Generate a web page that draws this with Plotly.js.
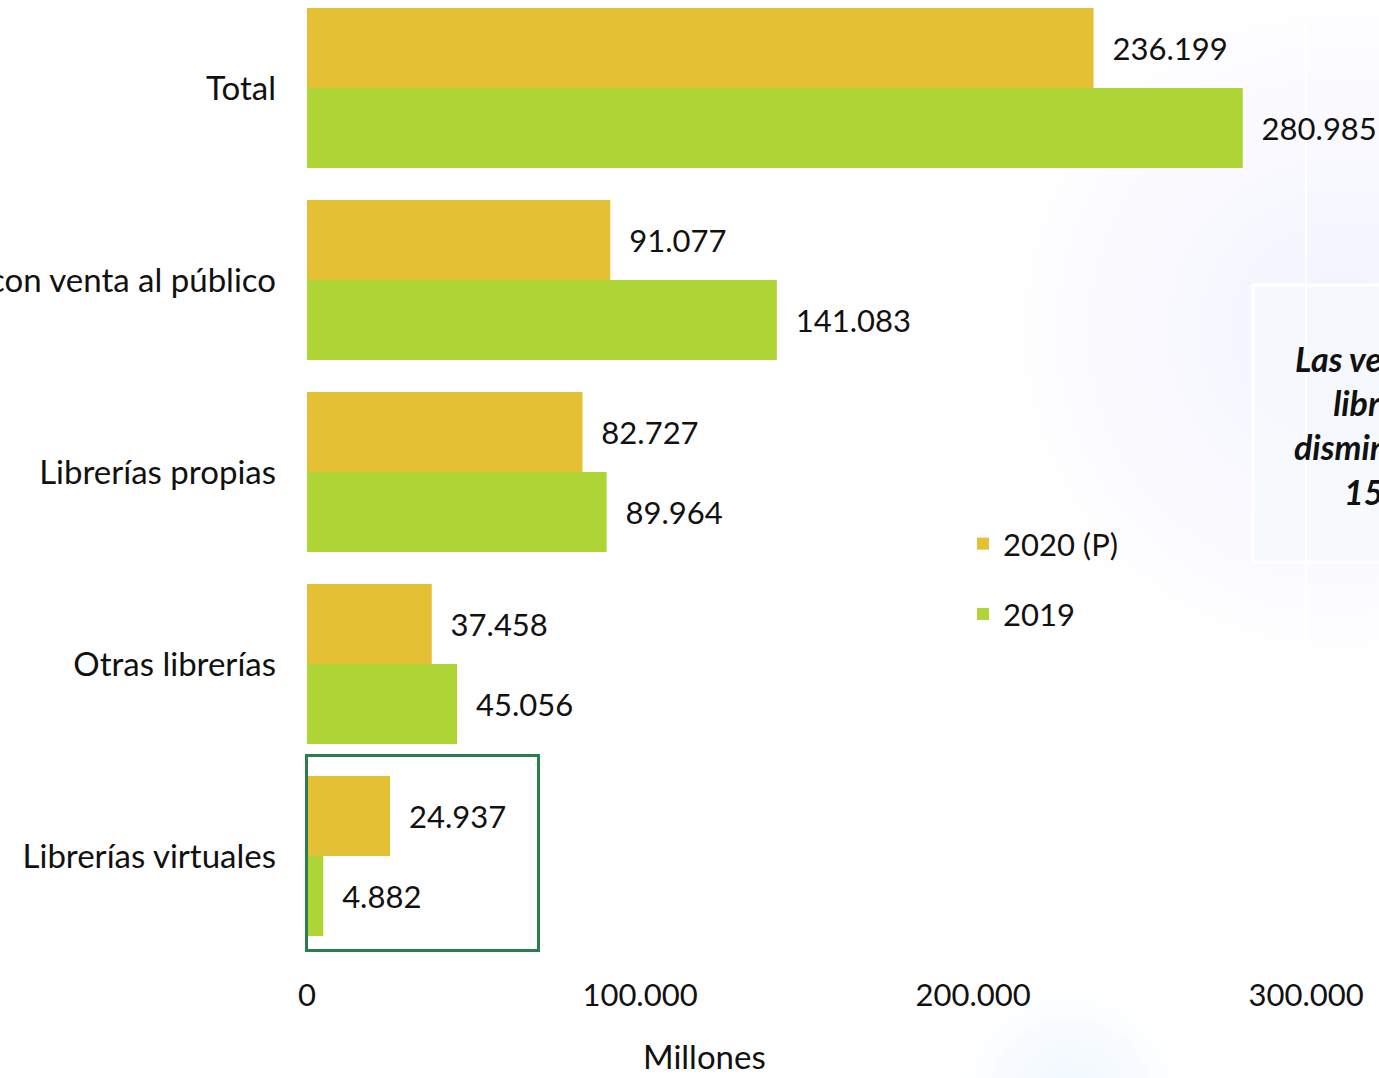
<!DOCTYPE html>
<html>
<head>
<meta charset="utf-8">
<script src="https://cdn.plot.ly/plotly-3.0.1.min.js"></script>
<style>
  html, body { margin: 0; padding: 0; background: #ffffff; }
  #chart { width: 1379px; height: 1078px; }
</style>
</head>
<body>
<div id="chart"></div>
<script>
// ---- data ----
const categories = [
  "Total",
  "Editoriales con venta al público",
  "Librerías propias",
  "Otras librerías",
  "Librerías virtuales"
];
const ventas2020 = [236199, 91077, 82727, 37458, 24937];
const ventas2019 = [280985, 141083, 89964, 45056, 4882];
const seriesNames = ["2020 (P)", "2019"];
const xTickValues = [0, 100000, 200000, 300000];
const axisTitle = "Millones";
const boxText = "Las ventas en<br>librerías<br>disminuyeron<br>15,9%";

// ---- geometry helpers (pixel -> paper) ----
const W = 1379, H = 1078;
const L = 307, R = 0, T = 0, B = 126;
const PW = W - L - R, PH = H - T - B;
const px = v => (v - L) / PW;
const py = v => 1 - (v - T) / PH;

const FONT = "Lato, 'Open Sans', sans-serif";

function glow(cx, cy, r, n, color) {
  const out = [];
  for (let i = 0; i < n; i++) {
    const rr = r * (1 - i / n);
    out.push({
      type: "circle", xref: "paper", yref: "paper", layer: "below",
      x0: px(cx - rr), x1: px(cx + rr), y0: py(cy + rr), y1: py(cy - rr),
      fillcolor: color, line: { width: 0 }
    });
  }
  return out;
}

const shapes = [].concat(
  glow(1340, 330, 340, 12, "rgba(208,228,246,0.028)"),
  glow(1070, 1100, 110, 8, "rgba(208,228,246,0.05)"),
  [{
    type: "rect", xref: "paper", yref: "paper", layer: "below",
    x0: px(1253), x1: px(1700), y0: py(562), y1: py(285),
    fillcolor: "rgba(245,249,253,0.9)", line: { color: "#ffffff", width: 3 }
  },
  {
    type: "rect", xref: "paper", yref: "paper", layer: "above",
    x0: px(306.5), x1: px(538.5), y0: py(950.5), y1: py(755.5),
    fillcolor: "rgba(0,0,0,0)", line: { color: "#2b7d50", width: 3 }
  }]
);

const textTpl = "\u00a0\u00a0%{x:,}";

const traces = [
  {
    type: "bar", orientation: "h", name: seriesNames[0],
    y: categories, x: ventas2020,
    marker: { color: "#e4c034" },
    text: ventas2020, texttemplate: textTpl, textposition: "outside",
    textfont: { family: FONT, size: 31, color: "#111111" },
    cliponaxis: false, legendgroup: "a", hoverinfo: "x+y"
  },
  {
    type: "bar", orientation: "h", name: seriesNames[1],
    y: categories, x: ventas2019,
    marker: { color: "#aed535" },
    text: ventas2019, texttemplate: textTpl, textposition: "outside",
    textfont: { family: FONT, size: 31, color: "#111111" },
    cliponaxis: false, legendgroup: "b", hoverinfo: "x+y"
  }
];

const layout = {
  width: W, height: H,
  margin: { l: L, r: R, t: T, b: B, pad: 0 },
  paper_bgcolor: "#ffffff",
  plot_bgcolor: "rgba(0,0,0,0)",
  separators: ",.",
  barmode: "group",
  bargap: 0.1667,
  bargroupgap: 0,
  font: { family: FONT, size: 30, color: "#111111" },
  showlegend: true,
  legend: {
    x: px(963), y: py(517), xanchor: "left", yanchor: "top",
    bgcolor: "rgba(0,0,0,0)", font: { family: FONT, size: 31, color: "#111111" },
    tracegroupgap: 27, traceorder: "grouped"
  },
  xaxis: {
    range: [0, 321900], autorange: false,
    tickvals: xTickValues, tickformat: ",",
    showgrid: true, gridcolor: "#ffffff", gridwidth: 2,
    zeroline: false, showline: false, ticks: "",
    ticklabelstandoff: 22,
    tickfont: { family: FONT, size: 31, color: "#111111" },
    fixedrange: true, automargin: false
  },
  yaxis: {
    type: "category", range: [4.5, -0.4583], autorange: false,
    showgrid: false, zeroline: false, showline: false, ticks: "",
    ticklabelstandoff: 30,
    tickfont: { family: FONT, size: 33, color: "#111111" },
    fixedrange: true, automargin: false
  },
  shapes: shapes,
  annotations: [
    {
      xref: "paper", yref: "paper", x: px(704), y: py(1056),
      xanchor: "center", yanchor: "middle", showarrow: false,
      text: axisTitle, font: { family: FONT, size: 33, color: "#111111" }
    },
    {
      xref: "paper", yref: "paper", x: px(1390), y: py(425),
      xanchor: "center", yanchor: "middle", showarrow: false, align: "center",
      text: boxText,
      font: { family: FONT, size: 34, color: "#111111", weight: "bold", style: "italic" }
    }
  ]
};

Plotly.newPlot("chart", traces, layout, { displayModeBar: false, staticPlot: true });
</script>
</body>
</html>
